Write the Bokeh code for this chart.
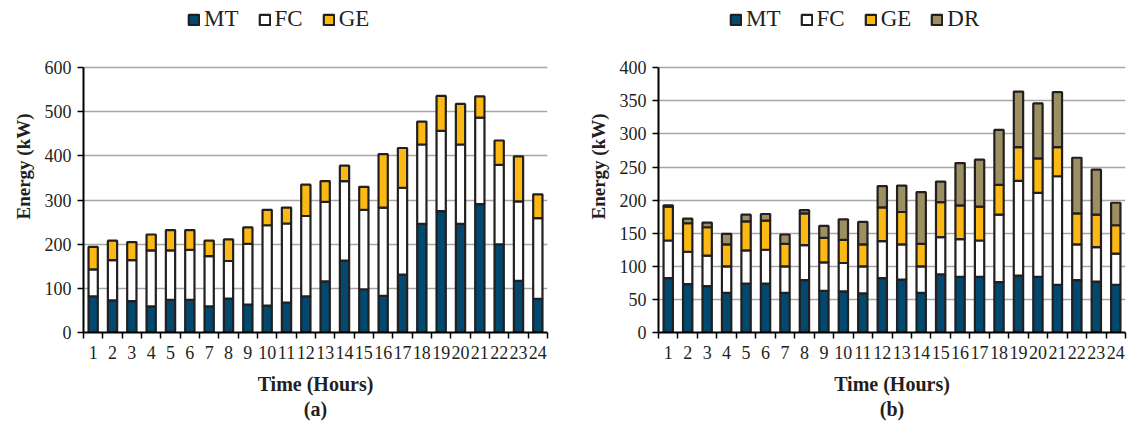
from bokeh.plotting import figure
from bokeh.layouts import row
from bokeh.models import FixedTicker, Legend, LegendItem, Title, ColumnDataSource
from bokeh.embed import file_html
from bokeh.resources import INLINE

hours = list(range(1, 25))

# (a) components (kW)
a_mt = [82, 73, 71, 59, 74, 74, 59, 77, 63, 61, 68, 82, 116, 163, 98, 83, 131, 246, 275, 246, 291, 200, 117, 76]
a_fc = [61, 91, 93, 127, 112, 113, 114, 85, 138, 182, 179, 182, 180, 180, 180, 200, 197, 180, 182, 180, 196, 180, 180, 183]
a_ge = [51, 44, 41, 36, 46, 45, 35, 49, 37, 35, 36, 71, 47, 35, 52, 121, 90, 52, 79, 92, 48, 55, 102, 54]

# (b) components (kW)
b_mt = [82, 73, 70, 60, 74, 74, 60, 79, 63, 62, 59, 82, 80, 60, 88, 84, 84, 76, 86, 84, 72, 79, 77, 72]
b_fc = [57, 49, 46, 40, 50, 51, 40, 53, 43, 43, 41, 56, 53, 40, 56, 57, 55, 102, 143, 127, 164, 54, 52, 47]
b_ge = [51, 43, 43, 33, 44, 44, 34, 48, 37, 35, 33, 51, 49, 34, 53, 51, 51, 45, 51, 52, 44, 47, 49, 43]
b_dr = [2, 7, 7, 16, 10, 10, 14, 5, 18, 31, 34, 32, 40, 78, 31, 64, 71, 83, 84, 83, 83, 84, 68, 34]

colors = {"MT": "#02496F", "FC": "#FFFFFF", "GE": "#FDB913", "DR": "#9C8F62"}
EDGE = "#231F20"
FONT = "Liberation Serif"

FRAME_H = 331      # frame spans the top of the figure down to the x axis
AXIS_TOP = 67      # pixel row where the value axis ends


def make(series, ymax, ystep, letter, width, mbl, mbr, leg_x):
    data = {"h": hours}
    data.update(series)
    src = ColumnDataSource(data)
    names = list(series.keys())
    y_end = ymax / (1 - AXIS_TOP / FRAME_H)
    p = figure(width=width, height=422, x_range=(0.5, 24.5), y_range=(0, y_end),
               output_backend="svg", toolbar_location=None,
               min_border_left=mbl, min_border_right=mbr,
               min_border_top=0, min_border_bottom=20)
    p.outline_line_color = None
    rs = p.vbar_stack(names, x="h", width=0.48, source=src,
                      fill_color=[colors[n] for n in names],
                      line_color=EDGE, line_width=2.2)
    p.xgrid.visible = False
    p.ygrid.grid_line_color = "#A6A6A6"
    p.ygrid.grid_line_width = 1.5
    p.ygrid.ticker = FixedTicker(ticks=list(range(0, ymax + 1, ystep)))

    p.yaxis.ticker = FixedTicker(ticks=list(range(0, ymax + 1, ystep)), minor_ticks=[])
    p.yaxis.bounds = (0, ymax)
    p.xaxis.ticker = FixedTicker(ticks=hours, minor_ticks=[h + 0.5 for h in [0] + hours])
    for ax in (p.xaxis[0], p.yaxis[0]):
        ax.axis_line_color = "black"
        ax.axis_line_width = 2
        ax.major_tick_line_color = "black"
        ax.major_tick_line_width = 1.5
        ax.minor_tick_line_color = "black"
        ax.minor_tick_line_width = 1.5
        ax.major_label_text_font = FONT
        ax.major_label_text_font_size = "18px"
        ax.major_label_text_color = "#231F20"
        ax.axis_label_text_font = FONT
        ax.axis_label_text_font_size = "20px"
        ax.axis_label_text_font_style = "bold"
        ax.axis_label_text_color = "#231F20"
    p.yaxis.major_tick_out = 6
    p.yaxis.major_tick_in = 0
    p.yaxis.major_label_standoff = 6
    p.xaxis.major_tick_out = 0
    p.xaxis.major_tick_in = 0
    p.xaxis.minor_tick_out = 6
    p.xaxis.minor_tick_in = 0
    p.xaxis.major_label_standoff = 7
    p.xaxis.axis_label = "Time (Hours)\n" + letter
    p.xaxis.axis_label_standoff = 11
    p.xaxis.axis_label_text_line_height = 1.15

    ylab = Title(text="Energy (kW)", align="center", offset=-32, text_font=FONT,
                 text_font_size="19px", text_font_style="bold", text_color="#231F20",
                 standoff=16)
    p.add_layout(ylab, "left")

    items = [LegendItem(label=n, renderers=[r]) for n, r in zip(names, rs)]
    leg = Legend(items=items, orientation="horizontal", location=(leg_x, 300),
                 glyph_width=13, glyph_height=13, label_standoff=4, spacing=19,
                 padding=0, margin=0, border_line_color=None, background_fill_alpha=0,
                 label_text_font=FONT, label_text_font_size="23px", label_text_color="#231F20")
    p.add_layout(leg, "center")
    return p


pa = make({"MT": a_mt, "FC": a_fc, "GE": a_ge}, 600, 100, "(a)", 565, 83, 18, 104)
pb = make({"MT": b_mt, "FC": b_fc, "GE": b_ge, "DR": b_dr}, 400, 50, "(b)", 565, 93, 5, 71)

layout = row(pa, pb)
open("out.html", "w").write(file_html(layout, INLINE))
